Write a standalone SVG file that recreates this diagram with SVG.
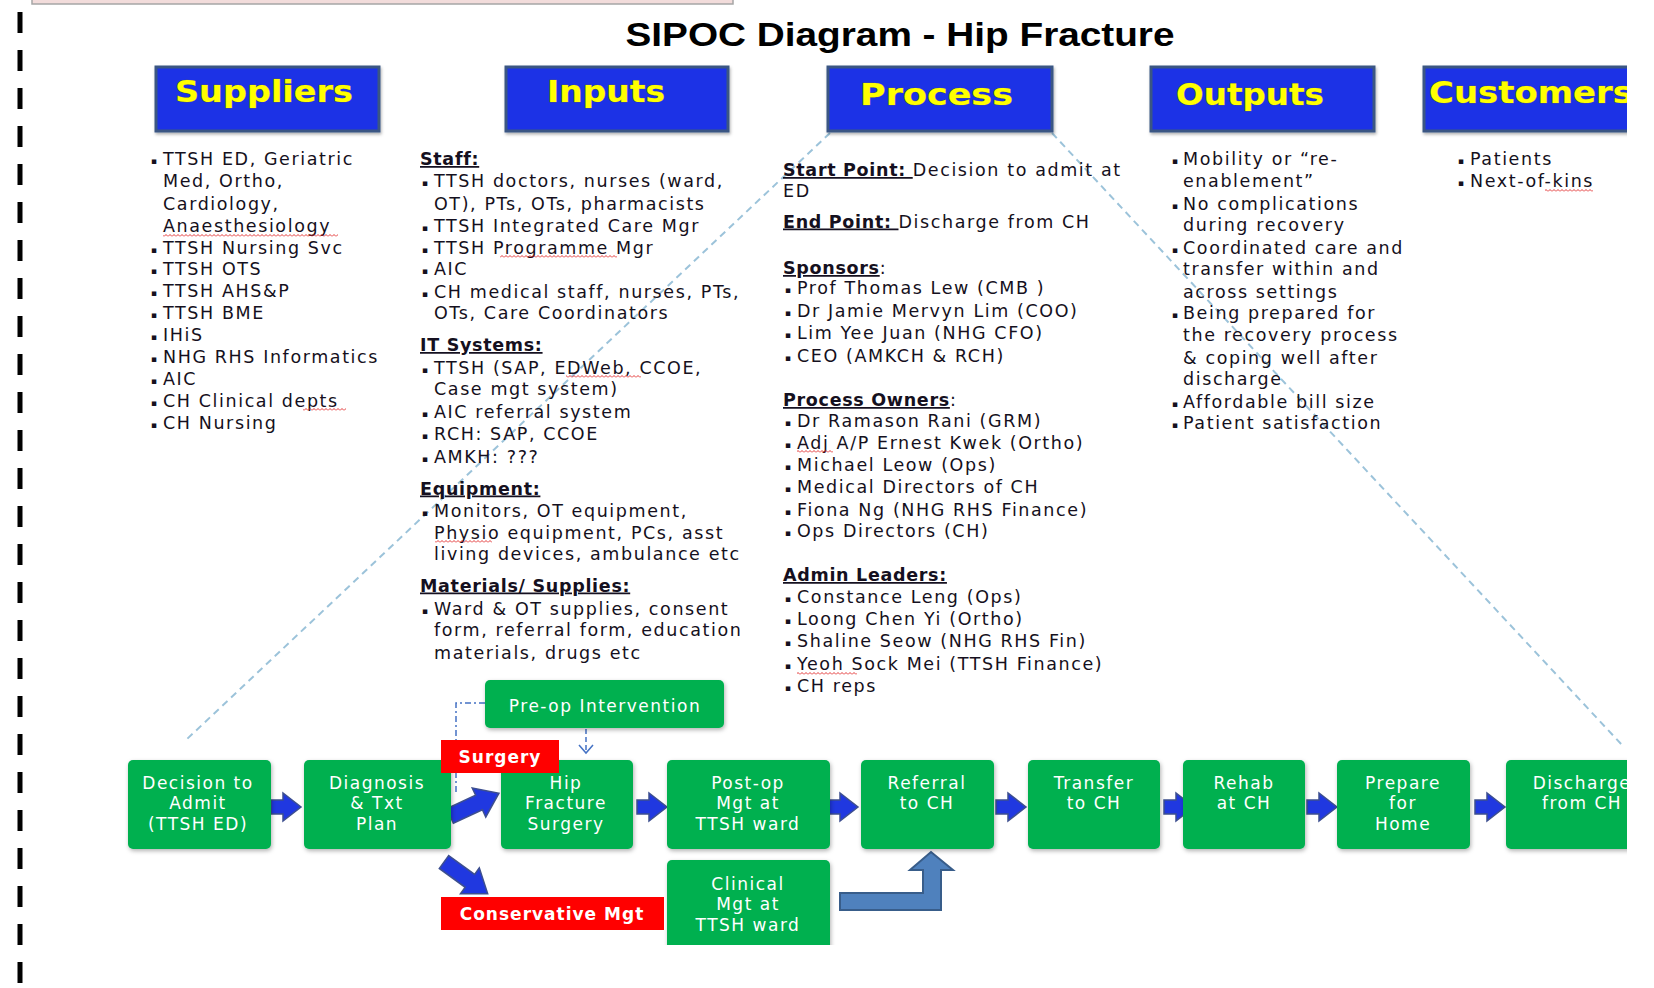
<svg xmlns="http://www.w3.org/2000/svg" width="1654" height="988" viewBox="0 0 1654 988">
<defs>
  <clipPath id="page"><rect x="0" y="0" width="1627" height="945"/></clipPath>
  <filter id="soft" x="-10%" y="-10%" width="120%" height="125%">
    <feGaussianBlur in="SourceAlpha" stdDeviation="2.2"/>
    <feOffset dx="1" dy="2" result="b"/>
    <feFlood flood-color="#000" flood-opacity="0.3"/>
    <feComposite in2="b" operator="in"/>
    <feMerge><feMergeNode/><feMergeNode in="SourceGraphic"/></feMerge>
  </filter>
  <filter id="hs" x="-5%" y="-10%" width="112%" height="130%">
    <feGaussianBlur in="SourceAlpha" stdDeviation="1.5"/>
    <feOffset dx="1" dy="2" result="b"/>
    <feFlood flood-color="#000" flood-opacity="0.3"/>
    <feComposite in2="b" operator="in"/>
    <feMerge><feMergeNode/><feMergeNode in="SourceGraphic"/></feMerge>
  </filter>
  <pattern id="wave" width="4" height="3" patternUnits="userSpaceOnUse"><path d="M0,2.5 L2,0.5 L4,2.5" fill="none" stroke="#E02020" stroke-width="0.9"/></pattern>
  <path id="barrow" d="M0,-7 H12 V-14 L30,0 L12,14 V7 H0 Z"/>
  <path id="darrow" d="M0,-8 H32 V-16 L54,0 L32,16 V8 H0 Z"/>
</defs>
<style>
  .t{font-family:"DejaVu Sans",sans-serif;font-size:17.5px;letter-spacing:1.6px;fill:#151020}
  .h{font-weight:bold;text-decoration:underline;letter-spacing:0.7px}
  .bl{font-family:"DejaVu Sans",sans-serif;font-size:9px;fill:#151020}
  .hdr rect{fill:#1F33E6;stroke:#3B5683;stroke-width:3;filter:url(#hs)}
  .hdr text{font-family:"DejaVu Sans",sans-serif;font-weight:bold;font-size:30px;fill:#FFFF00;stroke:#6e6e20;stroke-width:0.6px;paint-order:stroke}
  .g rect{fill:#00B050;filter:url(#soft)}
  .g text{font-family:"DejaVu Sans",sans-serif;font-size:17px;letter-spacing:1.5px;fill:#ffffff;text-anchor:middle}
  .r rect{fill:#FF0000}
  .r text{font-family:"DejaVu Sans",sans-serif;font-weight:bold;font-size:17px;letter-spacing:1px;fill:#ffffff;text-anchor:middle}
  .arr{fill:#2038E0;stroke:#3D4F8F;stroke-width:1.5}
  .wv{fill:url(#wave)}
  .guide{fill:none;stroke:#9CC3DA;stroke-width:2;stroke-dasharray:7 5}
</style>

<g id="frame">
  <rect x="32" y="-6" width="701" height="10" fill="#F2DCDB" stroke="#A6A6A6" stroke-width="1.5"/>
  <line x1="20" y1="12" x2="20" y2="985" stroke="#000" stroke-width="5" stroke-dasharray="21 17"/>
</g>

<g clip-path="url(#page)">
<g id="guides">
  <line class="guide" x1="830" y1="133" x2="186" y2="740"/>
  <line class="guide" x1="1052" y1="133" x2="1622" y2="745"/>
</g>

<text id="title" x="900" y="46" text-anchor="middle" font-family="Liberation Sans, Arial, sans-serif" font-weight="bold" font-size="34" textLength="549" lengthAdjust="spacingAndGlyphs" fill="#000">SIPOC Diagram - Hip Fracture</text>

<g id="hdr-suppliers" class="hdr"><rect x="156" y="67" width="223" height="64"/><text x="175" y="102" textLength="178" lengthAdjust="spacingAndGlyphs">Suppliers</text></g>
<g id="hdr-inputs" class="hdr"><rect x="506" y="67" width="222" height="64"/><text x="547" y="102" textLength="118" lengthAdjust="spacingAndGlyphs">Inputs</text></g>
<g id="hdr-process" class="hdr"><rect x="828" y="67" width="224" height="64"/><text x="860" y="105" textLength="153" lengthAdjust="spacingAndGlyphs">Process</text></g>
<g id="hdr-outputs" class="hdr"><rect x="1151" y="67" width="223" height="64"/><text x="1176" y="105" textLength="148" lengthAdjust="spacingAndGlyphs">Outputs</text></g>
<g id="hdr-customers" class="hdr"><rect x="1424" y="67" width="240" height="64"/><text x="1429" y="103" textLength="204" lengthAdjust="spacingAndGlyphs">Customers</text></g>

<g id="col-suppliers">
  <g class="bl"><text x="151" y="164">▪</text><text x="151" y="253">▪</text><text x="151" y="274">▪</text><text x="151" y="296">▪</text><text x="151" y="318">▪</text><text x="151" y="339.5">▪</text><text x="151" y="361.5">▪</text><text x="151" y="383.5">▪</text><text x="151" y="405.5">▪</text><text x="151" y="428">▪</text></g>
  <text class="t" x="163" y="165">TTSH ED, Geriatric</text>
  <text class="t" x="163" y="187">Med, Ortho,</text>
  <text class="t" x="163" y="209.5">Cardiology,</text>
  <text class="t" x="163" y="231.5">Anaesthesiology</text>
  <text class="t" x="163" y="254">TTSH Nursing Svc</text>
  <text class="t" x="163" y="275">TTSH OTS</text>
  <text class="t" x="163" y="297">TTSH AHS&amp;P</text>
  <text class="t" x="163" y="319">TTSH BME</text>
  <text class="t" x="163" y="340.5">IHiS</text>
  <text class="t" x="163" y="362.5">NHG RHS Informatics</text>
  <text class="t" x="163" y="384.5">AIC</text>
  <text class="t" x="163" y="406.5">CH Clinical depts</text>
  <text class="t" x="163" y="429">CH Nursing</text>
  <rect class="wv" x="163" y="234" width="175" height="3"/>
  <rect class="wv" x="303" y="408" width="43" height="3"/>
</g>

<g id="col-inputs">
  <g class="bl"><text x="422" y="186.4">▪</text><text x="422" y="230.7">▪</text><text x="422" y="252.9">▪</text><text x="422" y="274">▪</text><text x="422" y="297">▪</text><text x="422" y="373">▪</text><text x="422" y="417">▪</text><text x="422" y="438.5">▪</text><text x="422" y="461.5">▪</text><text x="422" y="515.5">▪</text><text x="422" y="613.5">▪</text></g>
  <text class="t h" x="420" y="165">Staff:</text>
  <text class="t" x="434" y="187.4">TTSH doctors, nurses (ward,</text>
  <text class="t" x="434" y="209.6">OT), PTs, OTs, pharmacists</text>
  <text class="t" x="434" y="231.7">TTSH Integrated Care Mgr</text>
  <text class="t" x="434" y="253.9">TTSH Programme Mgr</text>
  <text class="t" x="434" y="275">AIC</text>
  <text class="t" x="434" y="298">CH medical staff, nurses, PTs,</text>
  <text class="t" x="434" y="319.3">OTs, Care Coordinators</text>
  <text class="t h" x="420" y="351">IT Systems:</text>
  <text class="t" x="434" y="374">TTSH (SAP, EDWeb, CCOE,</text>
  <text class="t" x="434" y="395">Case mgt system)</text>
  <text class="t" x="434" y="418">AIC referral system</text>
  <text class="t" x="434" y="439.5">RCH: SAP, CCOE</text>
  <text class="t" x="434" y="462.5">AMKH: ???</text>
  <text class="t h" x="420" y="494.5">Equipment:</text>
  <text class="t" x="434" y="516.5">Monitors, OT equipment,</text>
  <text class="t" x="434" y="538.5">Physio equipment, PCs, asst</text>
  <text class="t" x="434" y="560">living devices, ambulance etc</text>
  <text class="t h" x="420" y="591.5">Materials/ Supplies:</text>
  <text class="t" x="434" y="614.5">Ward &amp; OT supplies, consent</text>
  <text class="t" x="434" y="636">form, referral form, education</text>
  <text class="t" x="434" y="659">materials, drugs etc</text>
  <rect class="wv" x="500" y="255" width="117" height="3"/>
  <rect class="wv" x="566" y="375" width="75" height="3"/>
  <rect class="wv" x="435" y="540" width="57" height="3"/>
</g>

<g id="col-process">
  <g class="bl"><text x="785" y="293">▪</text><text x="785" y="316">▪</text><text x="785" y="337.5">▪</text><text x="785" y="360.5">▪</text><text x="785" y="426">▪</text><text x="785" y="448">▪</text><text x="785" y="470">▪</text><text x="785" y="491.5">▪</text><text x="785" y="514.5">▪</text><text x="785" y="535.5">▪</text><text x="785" y="602">▪</text><text x="785" y="624">▪</text><text x="785" y="645.5">▪</text><text x="785" y="668.5">▪</text><text x="785" y="690.5">▪</text></g>
  <text class="t" x="783" y="176"><tspan class="h">Start Point: </tspan>Decision to admit at</text>
  <text class="t" x="783" y="197">ED</text>
  <text class="t" x="783" y="227.5"><tspan class="h">End Point: </tspan>Discharge from CH</text>
  <text class="t" x="783" y="274"><tspan class="h">Sponsors</tspan>:</text>
  <text class="t" x="797" y="294">Prof Thomas Lew (CMB )</text>
  <text class="t" x="797" y="317">Dr Jamie Mervyn Lim (COO)</text>
  <text class="t" x="797" y="338.5">Lim Yee Juan (NHG CFO)</text>
  <text class="t" x="797" y="361.5">CEO (AMKCH &amp; RCH)</text>
  <text class="t" x="783" y="406"><tspan class="h">Process Owners</tspan>:</text>
  <text class="t" x="797" y="427">Dr Ramason Rani (GRM)</text>
  <text class="t" x="797" y="449">Adj A/P Ernest Kwek (Ortho)</text>
  <text class="t" x="797" y="471">Michael Leow (Ops)</text>
  <text class="t" x="797" y="492.5">Medical Directors of CH</text>
  <text class="t" x="797" y="515.5">Fiona Ng (NHG RHS Finance)</text>
  <text class="t" x="797" y="536.5">Ops Directors (CH)</text>
  <text class="t h" x="783" y="581">Admin Leaders:</text>
  <text class="t" x="797" y="603">Constance Leng (Ops)</text>
  <text class="t" x="797" y="625">Loong Chen Yi (Ortho)</text>
  <text class="t" x="797" y="646.5">Shaline Seow (NHG RHS Fin)</text>
  <text class="t" x="797" y="669.5">Yeoh Sock Mei (TTSH Finance)</text>
  <text class="t" x="797" y="691.5">CH reps</text>
  <rect class="wv" x="797" y="450" width="36" height="3"/>
  <rect class="wv" x="797" y="672" width="60" height="3"/>
</g>

<g id="col-outputs">
  <g class="bl"><text x="1172" y="164">▪</text><text x="1172" y="208.5">▪</text><text x="1172" y="253">▪</text><text x="1172" y="318">▪</text><text x="1172" y="407">▪</text><text x="1172" y="428">▪</text></g>
  <text class="t" x="1183" y="165">Mobility or “re-</text>
  <text class="t" x="1183" y="186.5">enablement”</text>
  <text class="t" x="1183" y="209.5">No complications</text>
  <text class="t" x="1183" y="230.5">during recovery</text>
  <text class="t" x="1183" y="254">Coordinated care and</text>
  <text class="t" x="1183" y="275">transfer within and</text>
  <text class="t" x="1183" y="298">across settings</text>
  <text class="t" x="1183" y="319">Being prepared for</text>
  <text class="t" x="1183" y="340.5">the recovery process</text>
  <text class="t" x="1183" y="363.5">&amp; coping well after</text>
  <text class="t" x="1183" y="384.5">discharge</text>
  <text class="t" x="1183" y="408">Affordable bill size</text>
  <text class="t" x="1183" y="429">Patient satisfaction</text>
</g>

<g id="col-customers">
  <g class="bl"><text x="1458" y="164">▪</text><text x="1458" y="185.5">▪</text></g>
  <text class="t" x="1470" y="165">Patients</text>
  <text class="t" x="1470" y="186.5">Next-of-kins</text>
  <rect class="wv" x="1545" y="189" width="48" height="3"/>
</g>

<g id="connectors">
  <path d="M485,703 H456 V795" fill="none" stroke="#4472C4" stroke-width="1.5" stroke-dasharray="6 3 2 3"/>
  <path d="M586,729 V752" fill="none" stroke="#4472C4" stroke-width="1.5" stroke-dasharray="5 3"/>
  <polyline points="579,745 586,753 593,745" fill="none" stroke="#4472C4" stroke-width="1.5"/>
  <use href="#barrow" class="arr" transform="translate(271,807)"/>
  <use href="#barrow" class="arr" transform="translate(637,807)"/>
  <use href="#barrow" class="arr" transform="translate(828,807)"/>
  <use href="#barrow" class="arr" transform="translate(996,807)"/>
  <use href="#barrow" class="arr" transform="translate(1164,807)"/>
  <use href="#barrow" class="arr" transform="translate(1307,807)"/>
  <use href="#barrow" class="arr" transform="translate(1475,807)"/>
  <use href="#darrow" class="arr" transform="translate(450,816) rotate(-25)"/>
  <use href="#darrow" class="arr" transform="translate(444,862) rotate(36)"/>
  <path d="M840,893 H923 V870 H910 L931,852 L953,870 H941 V910 H840 Z" fill="#4F81BD" stroke="#385D8A" stroke-width="2"/>
</g>

<g id="n-decision" class="g"><rect x="128" y="760" width="143" height="89" rx="5"/><text x="198" y="789">Decision to</text><text x="198" y="809">Admit</text><text x="198" y="830">(TTSH ED)</text></g>
<g id="n-diagnosis" class="g"><rect x="304" y="760" width="147" height="89" rx="5"/><text x="377" y="789">Diagnosis</text><text x="377" y="809">&amp; Txt</text><text x="377" y="830">Plan</text></g>
<g id="n-hip" class="g"><rect x="501" y="760" width="132" height="89" rx="5"/><text x="566" y="789">Hip</text><text x="566" y="809">Fracture</text><text x="566" y="830">Surgery</text></g>
<g id="n-postop" class="g"><rect x="667" y="760" width="163" height="89" rx="5"/><text x="748" y="789">Post-op</text><text x="748" y="809">Mgt at</text><text x="748" y="830">TTSH ward</text></g>
<g id="n-referral" class="g"><rect x="861" y="760" width="133" height="89" rx="5"/><text x="927" y="789">Referral</text><text x="927" y="809">to CH</text></g>
<g id="n-transfer" class="g"><rect x="1028" y="760" width="132" height="89" rx="5"/><text x="1094" y="789">Transfer</text><text x="1094" y="809">to CH</text></g>
<g id="n-rehab" class="g"><rect x="1183" y="760" width="122" height="89" rx="5"/><text x="1244" y="789">Rehab</text><text x="1244" y="809">at CH</text></g>
<g id="n-prepare" class="g"><rect x="1337" y="760" width="133" height="89" rx="5"/><text x="1403" y="789">Prepare</text><text x="1403" y="809">for</text><text x="1403" y="830">Home</text></g>
<g id="n-discharge" class="g"><rect x="1506" y="760" width="152" height="89" rx="5"/><text x="1582" y="789">Discharge</text><text x="1582" y="809">from CH</text></g>
<g id="n-clinical" class="g"><rect x="667" y="860" width="163" height="100" rx="5"/><text x="748" y="890">Clinical</text><text x="748" y="910">Mgt at</text><text x="748" y="931">TTSH ward</text></g>
<g id="n-preop" class="g"><rect x="485" y="680" width="239" height="48" rx="5"/><text x="605" y="712">Pre-op Intervention</text></g>
<g id="n-surgery" class="r"><rect x="441" y="740" width="118" height="33"/><text x="500" y="763">Surgery</text></g>
<g id="n-conservative" class="r"><rect x="441" y="897" width="223" height="33"/><text x="552" y="920">Conservative Mgt</text></g>
</g>
</svg>
